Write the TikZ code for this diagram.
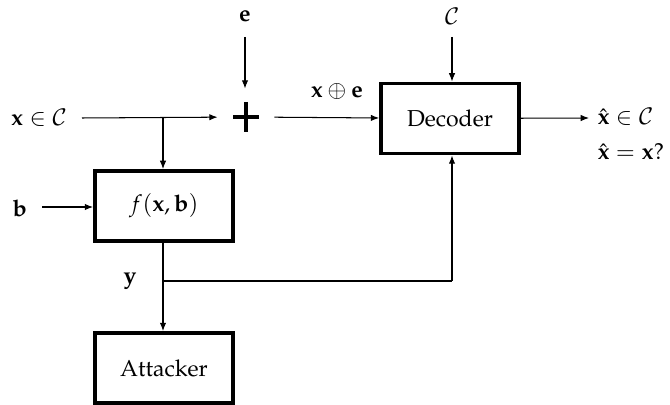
\documentclass[tikz,border=0pt]{standalone}
\usepackage[T1]{fontenc}
\usepackage{mathpazo}
\usetikzlibrary{arrows.meta}
\begin{document}
\begin{tikzpicture}[x=0.4343pt,y=-0.4343pt,
  conn/.style={line width=0.45pt,-{Latex[length=3.6pt,width=2.8pt]}},
  wire/.style={line width=0.45pt},
  blk/.style={draw,line width=1.6pt,minimum width=60pt,minimum height=30.5pt,inner sep=0pt,font=\normalsize},
  lbl/.style={inner sep=0pt,font=\normalsize}]
\useasboundingbox (0,0) rectangle (670,405);
% nodes
\node[lbl] (xin) at (39,118) {$\mathbf{x}\in\mathcal{C}$};
\node[lbl] (e) at (245,16) {$\mathbf{e}$};
\node[lbl] (cc) at (452,16) {$\mathcal{C}$};
\node[circle,minimum size=24.3pt,inner sep=0pt] (plus) at (246,117) {};
\draw[line width=1.7pt] (233,117) -- (259,117) (246,102) -- (246,132);
\node[blk] (dec) at (450,118.5) {Decoder};
\node[blk] (f) at (164,206) {$f(\mathbf{x},\mathbf{b})$};
\node[blk] (att) at (164,368) {Attacker};
\node[lbl] (b) at (20,208) {$\mathbf{b}$};
\node[lbl] (y) at (130,281) {$\mathbf{y}$};
\node[lbl] (xe) at (337,92) {$\mathbf{x}\oplus\mathbf{e}$};
\node[lbl,anchor=west] (out1) at (597,117) {$\hat{\mathbf{x}}\in\mathcal{C}$};
\node[lbl,anchor=west] (out2) at (597,152) {$\hat{\mathbf{x}}=\mathbf{x}?$};
% coordinates
\coordinate (xs) at (82,118);
\coordinate (j1) at (163,118);
\coordinate (es) at (245,37);
\coordinate (cs) at (452,37);
\coordinate (bs) at (42,207);
\coordinate (os) at (589,118);
\coordinate (j2) at (163,281);
\coordinate (c2) at (452,281);
% connectors
\draw[conn] (xs) -- (plus);
\draw[conn] (j1) -- (j1 |- f.north);
\draw[conn] (es) -- (es |- plus.north);
\draw[conn] (plus) -- (dec);
\draw[conn] (cs) -- (cs |- dec.north);
\draw[conn] (dec) -- (os);
\draw[conn] (bs) -- (f.west |- bs);
\draw[conn] (f.south -| j1) -- (j1 |- att.north);
\draw[wire] (j2) -- (c2);
\draw[conn] (c2) -- (c2 |- dec.south);
\end{tikzpicture}
\end{document}
